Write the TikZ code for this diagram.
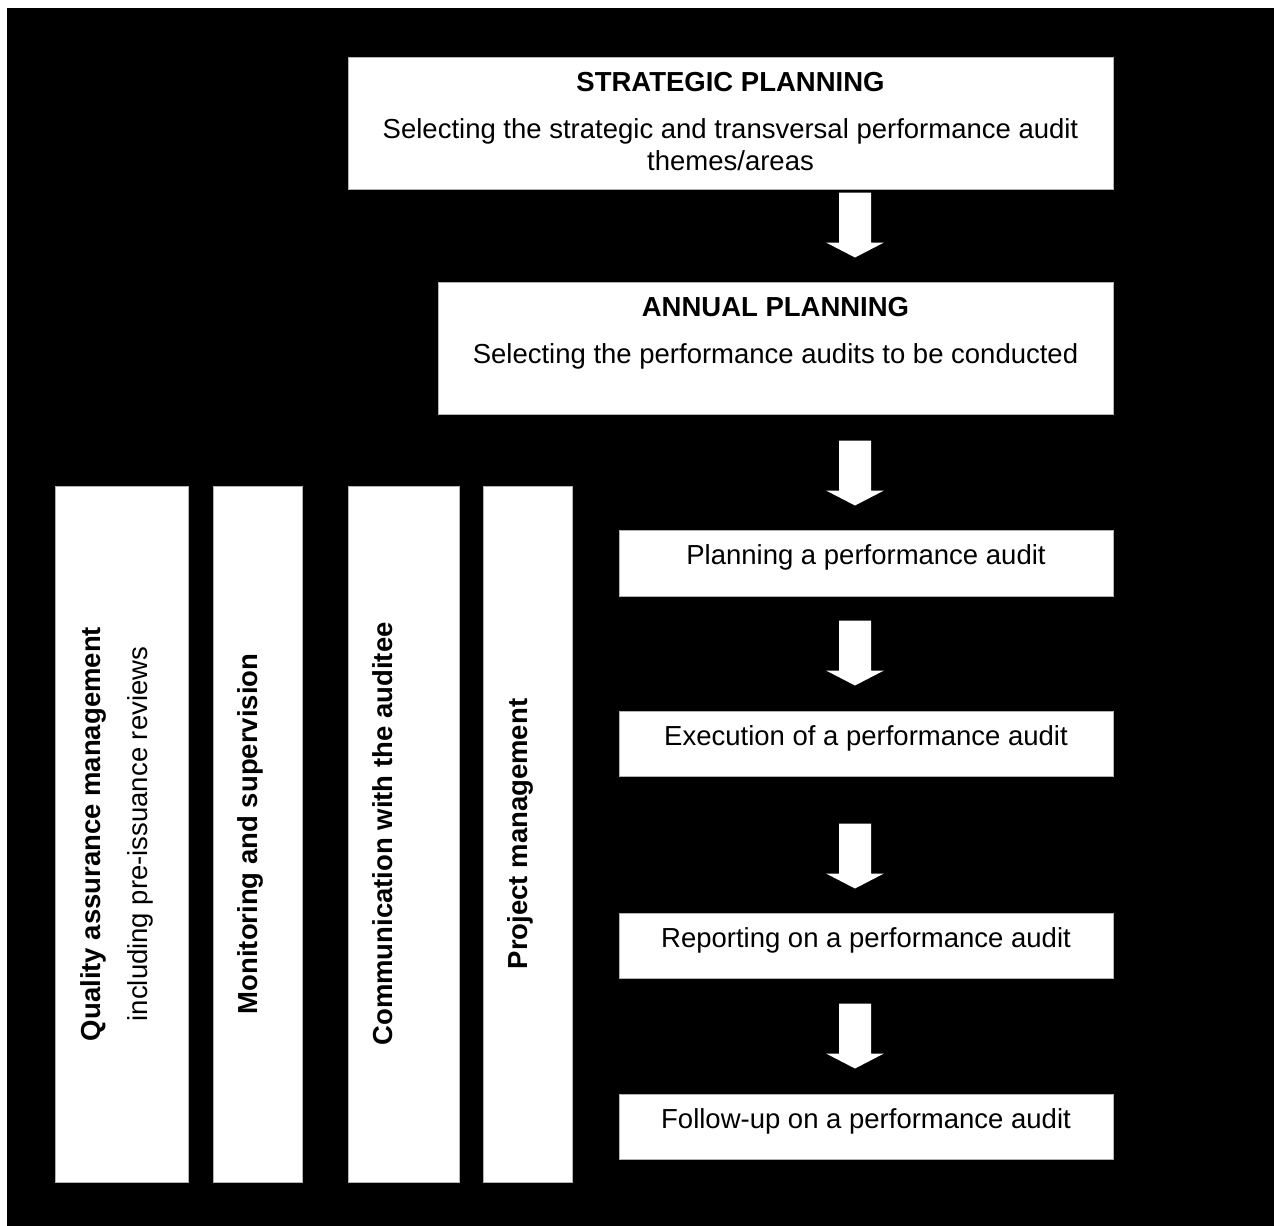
\documentclass[tikz,border=0pt]{standalone}
\usepackage{fontspec}
\setmainfont{Liberation Sans}
\usetikzlibrary{fit,calc}
\begin{document}
\begin{tikzpicture}[x=0.5pt,y=-0.5pt,
  box/.style={draw=gray!60, fill=white, line width=0.5pt, inner sep=0pt},
  lbl/.style={anchor=base, inner sep=0pt, font=\fontsize{13.75}{16}\selectfont},
  lblb/.style={lbl, font=\fontsize{13.75}{16}\selectfont\bfseries},
  blockarrow/.pic={\fill[white] (-16,0) -- (16,0) -- (16,50) -- (29,50) -- (0,65) -- (-29,50) -- (-16,50) -- cycle;}]
\useasboundingbox (0,0) rectangle (1282,1226);
\fill[white] (0,0) rectangle (1282,1226);
\fill[black] (7,8) rectangle (1274,1226);
\coordinate (ax) at (855,0);

% top boxes
\node[box, fit={(348,57) (1113,189)}] (strat) {};
\node[lblb] (stratT) at ($(strat.north)+(0,35)$) {STRATEGIC PLANNING};
\node[lbl] (stratL1) at ($(strat.north)+(0,82)$) {Selecting the strategic and transversal performance audit};
\node[lbl] (stratL2) at ($(strat.north)+(0,114)$) {themes/areas};

\node[box, fit={(438,282) (1113,414)}] (annual) {};
\node[lblb] (annualT) at ($(annual.north)+(0,35)$) {ANNUAL PLANNING};
\node[lbl] (annualL1) at ($(annual.north)+(0,82)$) {Selecting the performance audits to be conducted};

% process boxes
\node[box, fit={(619,530) (1113,596)}] (plan) {};
\node[lbl] (planT) at ($(plan.north)+(0,35)$) {Planning a performance audit};
\node[box, fit={(619,711) (1113,776)}] (exec) {};
\node[lbl] (execT) at ($(exec.north)+(0,35)$) {Execution of a performance audit};
\node[box, fit={(619,913) (1113,978)}] (report) {};
\node[lbl] (reportT) at ($(report.north)+(0,35)$) {Reporting on a performance audit};
\node[box, fit={(619,1094) (1113,1159)}] (follow) {};
\node[lbl] (followT) at ($(follow.north)+(0,35)$) {Follow-up on a performance audit};

% arrows
\pic at ($(strat.south -| ax)+(0,3)$) {blockarrow};
\pic at ($(annual.south -| ax)+(0,26)$) {blockarrow};
\pic at ($(plan.south -| ax)+(0,24)$) {blockarrow};
\pic at ($(exec.south -| ax)+(0,47)$) {blockarrow};
\pic at ($(report.south -| ax)+(0,25)$) {blockarrow};

% vertical boxes
\node[box, fit={(55,486) (188,1182)}] (qa) {};
\node[lblb, rotate=90] (qaT) at ($(qa.west)+(46,0)$) {Quality assurance management};
\node[lbl, rotate=90] (qaL) at ($(qa.west)+(93,0)$) {including pre-issuance reviews};
\node[box, fit={(213,486) (302,1182)}] (mon) {};
\node[lblb, rotate=90] (monT) at ($(mon.west)+(45,0)$) {Monitoring and supervision};
\node[box, fit={(348,486) (459,1182)}] (comm) {};
\node[lblb, rotate=90] (commT) at ($(comm.west)+(45,0)$) {Communication with the auditee};
\node[box, fit={(483,486) (572,1182)}] (proj) {};
\node[lblb, rotate=90] (projT) at ($(proj.west)+(45,0)$) {Project management};
\end{tikzpicture}
\end{document}
